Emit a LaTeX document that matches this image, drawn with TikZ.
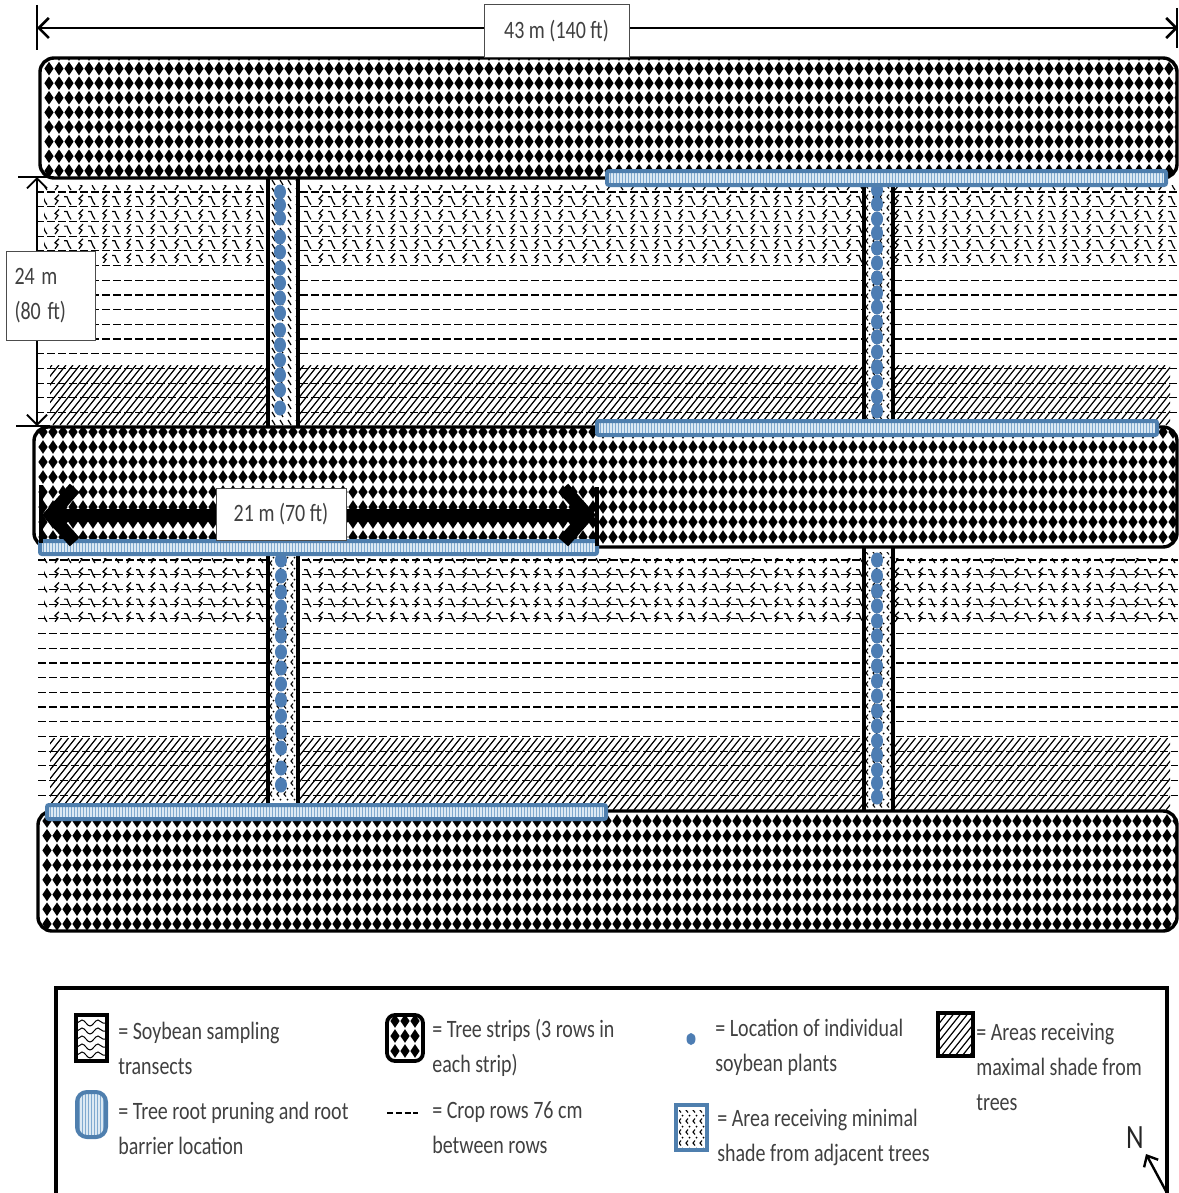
\documentclass[tikz,border=0pt]{standalone}
\usepackage{fontspec}
\setmainfont{Carlito}
\usetikzlibrary{arrows.meta,decorations.pathmorphing}

\definecolor{barblue}{HTML}{4F7FAE}
\definecolor{barlight}{HTML}{DCE9F3}
\definecolor{barstripe}{HTML}{7FA9CF}
\definecolor{plantblue}{HTML}{4D7DB3}

% diamonds of a tree strip: column list, row list
\newcommand{\treefill}[2]{
  \fill[black] \foreach \yd in {#2} {\foreach \xt in {#1} {
    (\xt-4.6,\yd) -- (\xt,\yd-6.8) -- (\xt+4.6,\yd) -- (\xt,\yd+6.8) -- cycle}};
}
% squiggles of the sampling transects
\newcommand{\squigs}[4]{
  \begin{scope}
    \clip (#1,#2) rectangle (#3,#4);
    \pgfmathsetmacro\xb{#1+12}
    \pgfmathsetmacro\xc{#1+24}
    \pgfmathsetmacro\xf{#1+36}
    \pgfmathsetmacro\yb{#2+14.7}
    \foreach \yq in {#2,\yb,...,#4} {
      \foreach \xq in {#1,\xc,...,#3}
        \draw[squig] (\xq-4,\yq-3) -- (\xq-1,\yq-3) -- (\xq+1,\yq+2) -- (\xq+3,\yq+5);
      \foreach \xq in {\xb,\xf,...,#3}
        \draw[squig] (\xq+3,\yq-5) -- (\xq-1,\yq-1) -- (\xq+2,\yq+1) -- (\xq-1,\yq+5);
    }
  \end{scope}
}
% crop rows
\newcommand{\croprows}[4]{
  \pgfmathsetmacro\yb{#3+14.7}
  \foreach \yr in {#3,\yb,...,#4}
    \draw[croprow] (#1,\yr) -- (#2,\yr);
}
% shaded area
\newcommand{\hatcharea}[4]{
  \begin{scope}
    \clip (#1,#2) rectangle (#3,#4);
    \pgfmathsetmacro\xa{#1-60}
    \pgfmathsetmacro\xb{#1-60+7}
    \pgfmathsetmacro\xe{#3+5}
    \pgfmathsetmacro\hh{#4-#2}
    \foreach \xh in {\xa,\xb,...,\xe}
      \draw[hatchline] (\xh,#4) -- ++(\hh*0.8,-\hh);
  \end{scope}
}
% chevrons of the minimal shade area
\newcommand{\chevs}[4]{
  \begin{scope}
    \clip (#1,#2) rectangle (#3,#4);
    \pgfmathsetmacro\xb{#1+7}
    \pgfmathsetmacro\yb{#2+11}
    \foreach \yq in {#2,\yb,...,#4}
      \foreach \xq in {#1,\xb,...,#3} {
        \draw[chev] (\xq+2,\yq-2.5) -- (\xq,\yq) -- (\xq+2,\yq+2.5);
        \fill (\xq+3.5,\yq+5.5) circle (1);
      }
  \end{scope}
}
% root barrier: x0, y0, x1, y1
\newcommand{\rootbar}[4]{
  \fill[barlight, rounded corners=1] (#1,#2) rectangle (#3,#4);
  \pgfmathsetmacro\xa{#1+0.5}
  \pgfmathsetmacro\xb{#1+3.5}
  \foreach \xs in {\xa,\xb,...,#3}
    \draw[barstripe, line width=0.6pt] (\xs,#2) -- (\xs,#4);
  \draw[barblue, line width=2pt, rounded corners=1] (#1,#2) rectangle (#3,#4);
}

\begin{document}
\begin{tikzpicture}[x=0.5pt, y=-0.5pt,
  squig/.style={black, line width=0.6pt},
  croprow/.style={black, line width=0.6pt, dash pattern=on 4pt off 1.5pt},
  hatchline/.style={black, line width=0.6pt},
  chev/.style={black, line width=0.55pt},
  stripline/.style={black, line width=1.7pt, rounded corners=7},
  transectline/.style={black, line width=1.6pt},
  plantdot/.style={plantblue},
  dimline/.style={black, line width=1.3pt, {Straight Barb[length=5pt,width=10pt]}-{Straight Barb[length=5pt,width=10pt]}},
  thickdim/.style={black, line width=6.5pt, {Straight Barb[length=12pt,width=27pt]}-{Straight Barb[length=12pt,width=27pt]}},
  dimtick/.style={black, line width=0.7pt},
  dimbox/.style={draw=black!70, fill=white, line width=0.5pt, inner sep=0pt, text=black!75, font=\fontsize{12.5}{17.5}\selectfont},
  legtxt/.style={anchor=west, inner sep=0pt, align=left, transform shape, xscale=0.8, text=black!75, font=\fontsize{12.5}{17.5}\selectfont}]

\useasboundingbox (0,0) rectangle (1178,1193);

% SOYBEAN ALLEY 1
\squigs{44}{185}{1178}{262}
\croprows{36}{1178}{192}{420}
\hatcharea{50}{365}{1170}{425}

% SOYBEAN ALLEY 2
\squigs{44}{558}{1178}{628}
\croprows{38}{1178}{560}{800}
\hatcharea{50}{738}{1170}{810}

% transects, left column
\fill[white] (268,178) rectangle (298,427);
\begin{scope}
  \clip (268,178) rectangle (298,427);
  \foreach \yq in {180,188,...,430}
    \foreach \xq in {272,280,...,298}
      \draw[squig] (\xq,\yq) -- ++(3,5);
\end{scope}
\fill[white] (268,547) rectangle (298,803);
\chevs{270}{552}{297}{803}
\draw[transectline] (268,178) -- (268,427);
\draw[transectline] (298,178) -- (298,427);
\draw[transectline] (268,547) -- (268,803);
\draw[transectline] (298,547) -- (298,803);

% transects, right column
\fill[white] (864,180) rectangle (893,422);
\chevs{866}{186}{892}{422}
\fill[white] (864,547) rectangle (893,810);
\chevs{866}{552}{892}{810}
\draw[transectline] (864,180) -- (864,422);
\draw[transectline] (893,180) -- (893,422);
\draw[transectline] (864,547) -- (864,810);
\draw[transectline] (893,547) -- (893,810);

% soybean plants
\foreach \yd in {192,205,218,237,252,268,283,298,313,330,345,360,375,390,408}
  \fill[plantdot] (280,\yd) ellipse (6 and 7.5);
\foreach \yd in {190,204,219,233,248,263,278,293,307,322,337,352,367,382,397,411}
  \fill[plantdot] (877,\yd) ellipse (6 and 7.5);
\foreach \yd in {560,576,592,607,621,636,652,668,684,700,716,732,748,768,785}
  \fill[plantdot] (281,\yd) ellipse (6 and 7.5);
\foreach \yd in {560,576,591,606,621,636,651,666,681,696,711,726,741,755,770,783,797}
  \fill[plantdot] (877,\yd) ellipse (6 and 7.5);

% TREE STRIPS
\fill[white, rounded corners=7] (40,58) rectangle (1177,178);
\begin{scope}
  \clip[rounded corners=7] (40,58) rectangle (1177,178);
  \treefill{49,59,...,1189}{54,68.6,...,176}
\end{scope}
\draw[stripline] (40,58) rectangle (1177,178);

\fill[white, rounded corners=7] (34,427) rectangle (1177,547);
\begin{scope}
  \clip[rounded corners=7] (34,427) rectangle (1177,547);
  \treefill{43,53,...,1183}{432,447,...,545}
\end{scope}
\draw[stripline] (34,427) rectangle (1177,547);

\fill[white, rounded corners=7] (38,811) rectangle (1177,931);
\begin{scope}
  \clip[rounded corners=7] (38,811) rectangle (1177,931);
  \treefill{47,57,...,1187}{821,835.7,...,930}
\end{scope}
\draw[stripline] (38,811) rectangle (1177,931);

% root barriers
\rootbar{607}{171}{1166}{185}
\rootbar{597}{421}{1157}{435}
\rootbar{40}{541}{597}{554}
\rootbar{47}{805}{606}{819}

% DIMENSIONS
\coordinate (topL) at (37,28);
\coordinate (topR) at (1178,28);
\coordinate (leftT) at (37,177);
\coordinate (leftB) at (37,426);
\coordinate (midL) at (42,515);
\coordinate (midR) at (596,515);

\draw[dimtick] (37,5) -- (37,50);
\draw[dimtick] (1177,8) -- (1177,48);
\draw[dimtick] (18,177) -- (50,177);
\draw[dimtick] (16,426) -- (50,426);
\draw[dimtick, line width=2pt] (41,485) -- (41,543);
\draw[dimtick, line width=2pt] (597,487) -- (597,546);

\draw[dimline] (topL) -- (topR);
\draw[dimline, line width=0.9pt] (leftT) -- (leftB);
\draw[thickdim] (midL) -- (midR);

\node[dimbox, minimum width=72.5pt, minimum height=26.5pt] (lblTotal) at (556.5,31.5) {\scalebox{0.8}[1]{43 m (140 ft)}};
\node[dimbox, minimum width=44.5pt, minimum height=44.5pt, align=left, text width=36pt] (lblAlley) at (50.5,295.5) {\scalebox{0.8}[1]{24 m}\\\scalebox{0.8}[1]{(80 ft)}};
\node[dimbox, minimum width=65pt, minimum height=26pt] (lblHalf) at (281,514) {\scalebox{0.8}[1]{21 m (70 ft)}};

% LEGEND
\draw[black, line width=2pt] (56,1198) -- (56,988) -- (1167,988) -- (1167,1198);

%soybean transect swatch
\begin{scope}
  \clip (76,1015) rectangle (107,1061);
  \foreach \yq in {1023,1031,1039,1047,1055}
    \draw[black, line width=0.5pt, decorate, decoration={snake, amplitude=1.5, segment length=8}] (77,\yq) -- (107,\yq);
\end{scope}
\draw[black, line width=2pt] (76,1015) rectangle (107,1061);
\node[legtxt] (legSoy) at (118,1048) {= Soybean sampling\\transects};

%tree strip swatch
\begin{scope}
  \clip[rounded corners=4] (387,1015) rectangle (423,1061);
  \treefill{395,405,415}{1021,1036,1051}
\end{scope}
\draw[black, line width=1.9pt, rounded corners=4] (387,1015) rectangle (423,1061);
\node[legtxt] (legTree) at (432,1048) {= Tree strips (3 rows in\\each strip)};

%plant swatch
\fill[plantdot] (691,1039) ellipse (4.5 and 6);
\node[legtxt] (legPlant) at (715,1047) {= Location of individual\\soybean plants};

%maximal shade swatch
\hatcharea{938}{1013}{973}{1056}
\draw[black, line width=2pt] (938,1013) rectangle (973,1056);
\node[legtxt] (legMax) at (976,1067) {= Areas receiving\\maximal shade from\\trees};

%root barrier swatch
\begin{scope}
  \clip[rounded corners=5] (76,1091) rectangle (107,1138);
  \rootbar{76}{1091}{107}{1138}
\end{scope}
\draw[barblue, line width=2pt, rounded corners=5] (77,1092) rectangle (106,1137);
\node[legtxt] (legRoot) at (118,1128) {= Tree root pruning and root\\barrier location};

%crop row swatch
\draw[black, line width=0.6pt, dash pattern=on 3pt off 1.4pt] (387,1113) -- (418,1113);
\node[legtxt] (legCrop) at (432,1128) {= Crop rows 76 cm\\between rows};

%minimal shade swatch
\chevs{679}{1110}{705}{1149}
\draw[barblue, line width=2pt] (676,1105) rectangle (707,1150);
\node[legtxt] (legMin) at (717,1137) {= Area receiving minimal\\shade from adjacent trees};

%north arrow
\node[anchor=center, inner sep=0pt, transform shape, xscale=0.8, text=black!85, font=\fontsize{17}{18}\selectfont] (north) at (1135,1138) {N};
\coordinate (northEnd) at (1167,1193);
\draw[black, line width=1.2pt, -{Straight Barb[length=4.5pt,width=8pt]}] (northEnd) -- (1146,1154);

\end{tikzpicture}
\end{document}
